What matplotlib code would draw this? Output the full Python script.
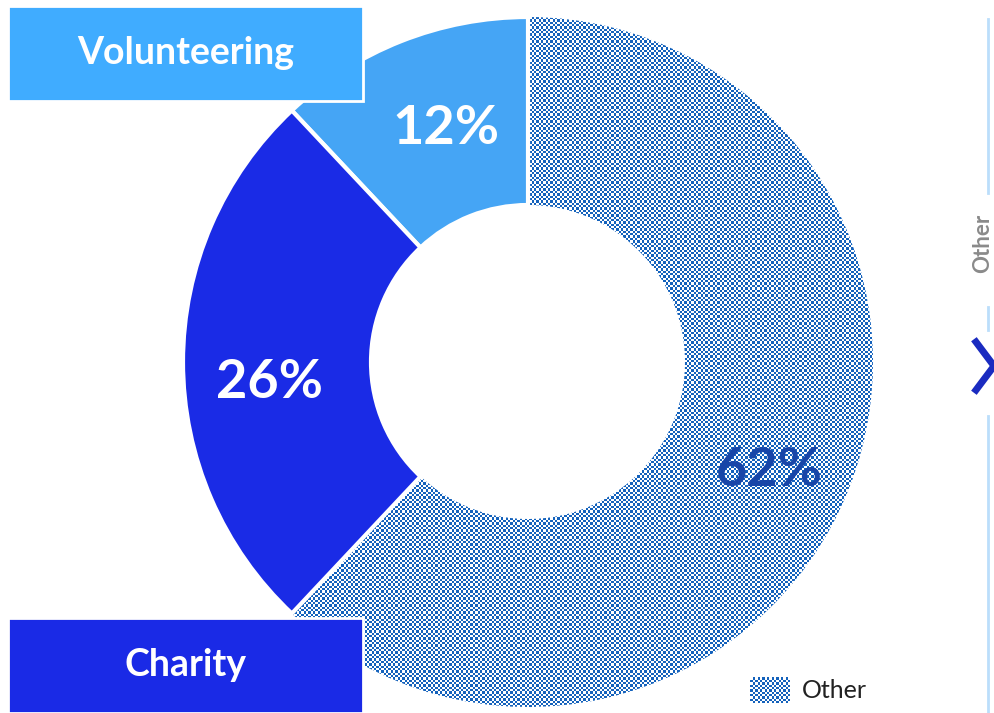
import numpy as np
import matplotlib
matplotlib.use("Agg")
import matplotlib.pyplot as plt
from matplotlib.patches import Rectangle

# 数据
categories = ["Volunteering", "Charity", "Other"]
shares = [12, 26, 62]
slice_colors = ["#45a5f5", "#1a2be6", "white"]
label_colors = ["white", "white", "#1846a8"]
box_colors = {"Volunteering": "#40acff", "Charity": "#1a2ae6"}

W, H = 994, 713
plt.rcParams["font.family"] = ["Lato", "DejaVu Sans"]

fig = plt.figure(figsize=(W / 100, H / 100), dpi=100)
ax = fig.add_axes([0, 0, 1, 1])

cx, cy = 528, H - 362
R, r = 345, 157

wedges, _ = ax.pie(shares, colors=slice_colors, startangle=90, counterclock=True,
                   center=(cx, cy), radius=R, frame=True,
                   wedgeprops=dict(width=R - r, edgecolor="white", linewidth=3))

# 棋盘格纹理填充 "Other"
cell = 2.35
yy, xx = np.mgrid[0:H, 0:W]
checker = ((np.floor(xx / cell) + np.floor(yy / cell)) % 2).astype(float)
rgb = np.ones((H, W, 3))
blue = np.array([0x14, 0x62, 0xbc]) / 255
rgb[checker == 1] = blue
im = ax.imshow(rgb, extent=(0, W, 0, H), origin="upper", interpolation="nearest", zorder=1.5)
im.set_clip_path(wedges[2])
wedges[2].set_zorder(1)
for w in wedges[:2]:
    w.set_zorder(2)

# 百分比标签
offsets = [(10, 0), (-7, -21), (8, -16)]
angle = 90.0
for val, col, (dx, dy) in zip(shares, label_colors, offsets):
    mid = np.deg2rad(angle + val * 3.6 / 2)
    angle += val * 3.6
    rr = (R + r) / 2
    ax.text(cx + rr * np.cos(mid) + dx, cy + rr * np.sin(mid) + dy, f"{val}%",
            ha="center", va="center", color=col, fontsize=39, fontweight="bold", zorder=4)

# 分类标签框
for name, top in [("Volunteering", 6), ("Charity", 618)]:
    ax.add_patch(Rectangle((8, H - top - 95), 355, 95, facecolor=box_colors[name],
                           edgecolor="white", linewidth=2, zorder=5))
    ax.text(8 + 355 / 2, H - top - 47, name, ha="center", va="center", color="white",
            fontsize=27, fontweight="bold", zorder=6)

# 右侧导航
line_kw = dict(color="#bbdefb", linewidth=2, zorder=3)
ax.plot([988, 988], [H - 19, H - 193], **line_kw)
ax.plot([988, 988], [H - 307, H - 330], **line_kw)
ax.plot([988, 988], [H - 416, 0], **line_kw)
ax.text(983, H - 243, "Other", rotation=90, ha="center", va="center", color="#8a8a8a",
        fontsize=16, fontweight="bold", zorder=3)
ax.plot([976, 994, 976], [H - 342, H - 366, H - 390], color="#1a2bc0", linewidth=5,
        solid_joinstyle="miter", zorder=3)

# 图例
leg = np.ones((26, 40, 3))
ly, lx = np.mgrid[0:26, 0:40]
leg[((np.floor(lx / cell) + np.floor(ly / cell)) % 2) == 1] = blue
ax.imshow(leg, extent=(750, 790, H - 703, H - 677), interpolation="nearest", zorder=3)
ax.text(802, H - 690, "Other", ha="left", va="center", color="#222222", fontsize=18, zorder=3)

ax.set_xlim(0, W)
ax.set_ylim(0, H)
ax.set_aspect("equal")
ax.axis("off")

fig.savefig("out.png", dpi=100)
